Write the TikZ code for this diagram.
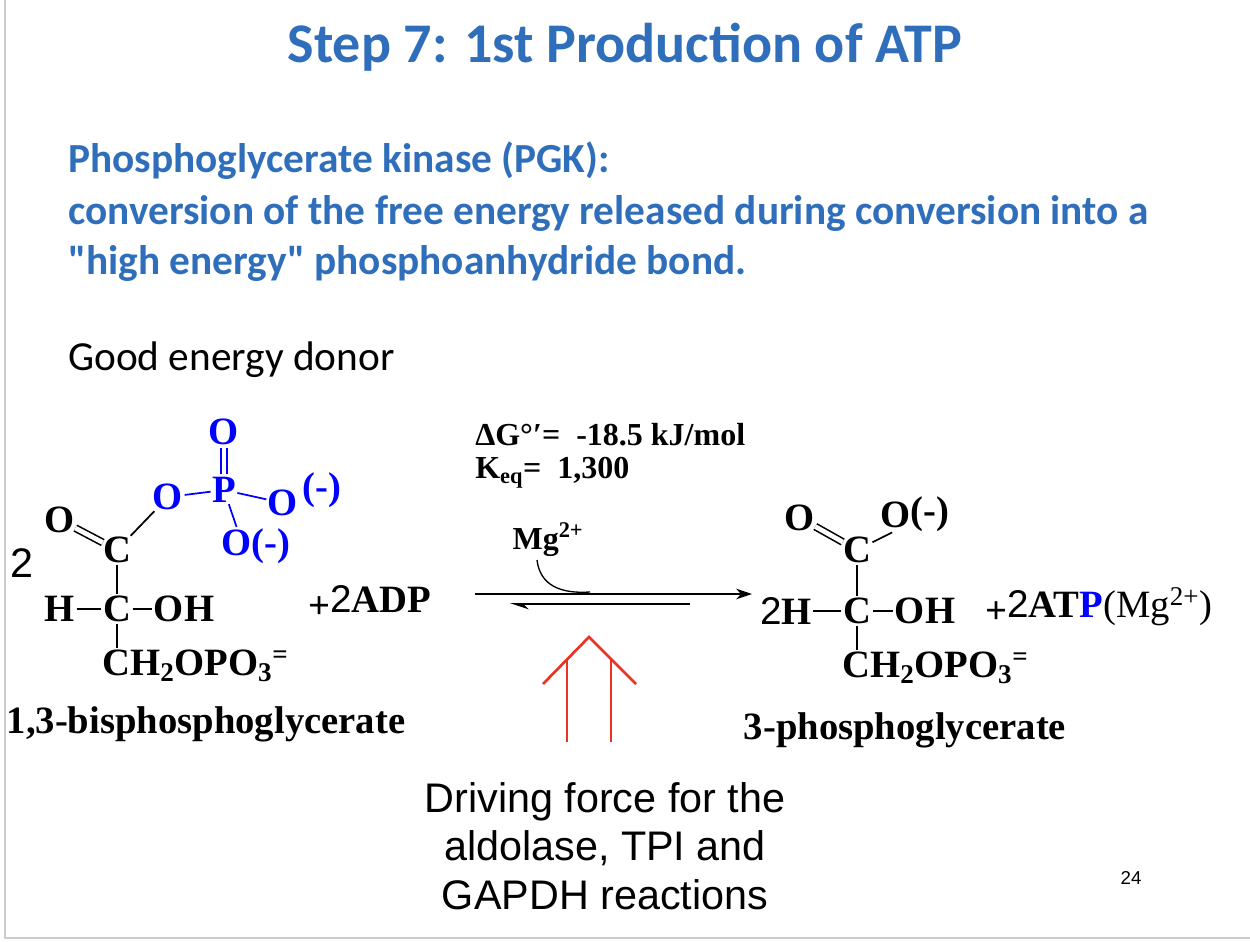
\documentclass[tikz,border=0pt]{standalone}
\usepackage{fontspec}
\setmainfont{Liberation Serif}
\newfontfamily\slidefont{Carlito}
\newfontfamily\arialfont{Liberation Sans}
\usetikzlibrary{arrows.meta}
\definecolor{slideblue}{RGB}{47,110,186}
\definecolor{chemblue}{RGB}{0,0,255}
\definecolor{redarrow}{RGB}{235,51,36}
\newcommand{\sbs}[1]{\textsubscript{#1}}
\newcommand{\sps}[1]{\textsuperscript{#1}}
\tikzset{
  chem/.style={font=\fontsize{29}{29}\selectfont\bfseries, inner sep=0pt},
  bchem/.style={chem, text=chemblue},
  small/.style={font=\fontsize{24}{24}\selectfont\bfseries, inner sep=0pt, anchor=west},
  bond/.style={line width=1.3pt, shorten >=1pt, shorten <=1pt},
  dbond/.style={double, double distance=3.5pt, line width=1.2pt, shorten >=0pt, shorten <=0pt},
  bbond/.style={bond, draw=chemblue},
  slide/.style={font=\slidefont\fontsize{31}{31}\selectfont\bfseries, text=slideblue, anchor=base west, inner sep=0pt},
  drive/.style={font=\arialfont\fontsize{31}{31}\selectfont, inner sep=0pt, anchor=base},
  redline/.style={redarrow, line width=2pt},
}
\begin{document}
\begin{tikzpicture}[x=0.75pt,y=-0.75pt]
\useasboundingbox (0,0) rectangle (1250,942);
\draw[gray!40, line width=1pt] (5,0) -- (5,938) -- (1250,938);
\node[font=\slidefont\fontsize{42}{42}\selectfont\bfseries, text=slideblue, inner sep=0pt] (title) at (625,47) {Step 7: 1st Production of ATP};
\node[slide] (l1) at (68,172) {Phosphoglycerate kinase (PGK):};
\node[slide] (l2) at (68,224) {conversion of the free energy released during conversion into a};
\node[slide] (l3) at (68,274) {"high energy" phosphoanhydride bond.};
\node[font=\slidefont\fontsize{31}{31}\selectfont, anchor=base west, inner sep=0pt] (good) at (68,370) {Good energy donor};
% left molecule
\node[drive] (two) at (22,577) {2};
\node[chem] (O1) at (60,520) {O};
\node[chem] (C1) at (117,550) {C};
\node[bchem] (O2) at (168,497) {O};
\node[bchem] (P) at (224,490) {P};
\node[bchem] (Otop) at (224,432) {O};
\node[bchem] (O3) at (283,503) {O};
\node[bchem, anchor=west] (m1) at (302,490) {(-)};
\node[bchem, anchor=west] (O4) at (221,546) {O(-)};
\node[chem] (H1) at (60,609) {H};
\node[chem] (C2) at (117,609) {C};
\node[chem] (OH1) at (184,609) {OH};
\node[chem, anchor=west] (R1) at (102,666) {CH\sbs{2}OPO\sbs{3}\sps{=}};
\node[chem] (name1) at (206,724) {1,3-bisphosphoglycerate};
\draw[dbond] (O1) -- (C1);
\draw[bond] (C1) -- (O2);
\draw[bbond] (O2) -- (P);
\draw[bbond] (P) -- (O3);
\draw[bbond] (P) -- ([xshift=12pt]O4.north west);
\draw[bbond, shorten <=2pt, shorten >=2pt, double, double distance=3.5pt, line width=1.1pt] (P) -- (Otop);
\draw[bond] (C1) -- (C2);
\draw[bond] (H1) -- (C2);
\draw[bond] (C2) -- (OH1);
\draw[bond] (C2) -- (C2 |- R1.north);
\node[chem, anchor=west] (adp) at (308,602) {\raisebox{-4pt}{+}\arialfont\mdseries 2\rmfamily\bfseries ADP};
% conditions
\node[small] (dg) at (475,435) {ΔG°′=\ \ -18.5 kJ/mol};
\node[small] (keq) at (475,473) {K\sbs{eq}=\ \ 1,300};
\node[chem, font=\fontsize{24}{24}\selectfont\bfseries] (mg) at (548,540) {Mg\sps{2+}};
\coordinate (fa) at (475,594);
\coordinate (fb) at (752,594);
\coordinate (ra) at (690,604);
\coordinate (rb) at (510,604);
\draw[line width=1.3pt, -{Stealth[length=12pt,width=8pt]}] (fa) -- (fb);
\draw[line width=1.3pt, -{Stealth[length=12pt,width=8pt,left]}] (ra) -- (rb);
\draw[line width=1pt] (537,560) .. controls (540,585) and (560,594) .. (590,592);
% red arrow
\coordinate (apex) at (589,637);
\coordinate (wl) at (543,684);
\coordinate (wr) at (636,684);
\draw[redline] (567,742) -- (567,660);
\draw[redline] (611,742) -- (611,660);
\draw[redline] (wl) -- (apex) -- (wr);
\node[drive] (d1) at (605,812) {Driving force for the};
\node[drive] (d2) at (605,860) {aldolase, TPI and};
\node[drive] (d3) at (605,909) {GAPDH reactions};
% right molecule
\node[chem] (O5) at (800,518) {O};
\node[chem] (C3) at (857,550) {C};
\node[chem, anchor=west] (O6) at (880,514) {O\raisebox{3pt}{(-)}};
\node[chem, anchor=east] (H2) at (812,611) {\arialfont\mdseries 2\rmfamily\bfseries H};
\node[chem] (C4) at (857,611) {C};
\node[chem] (OH2) at (925,611) {OH};
\node[chem, anchor=west] (R2) at (842,668) {CH\sbs{2}OPO\sbs{3}\sps{=}};
\node[chem] (name2) at (905,730) {3-phosphoglycerate};
\draw[dbond] (O5) -- (C3);
\draw[bond] (C3) -- ([xshift=10pt]O6.south west);
\draw[bond] (C3) -- (C4);
\draw[bond] (H2) -- (C4);
\draw[bond] (C4) -- (OH2);
\draw[bond] (C4) -- (C4 |- R2.north);
\node[chem, anchor=west] (atp) at (985,607) {\raisebox{-4pt}{+}\arialfont\mdseries 2\rmfamily\bfseries AT\textcolor{chemblue}{P}\mdseries(Mg\sps{2+})};
\node[font=\arialfont\fontsize{14}{14}\selectfont, inner sep=0pt] (pg) at (1131,878) {24};
\end{tikzpicture}
\end{document}
